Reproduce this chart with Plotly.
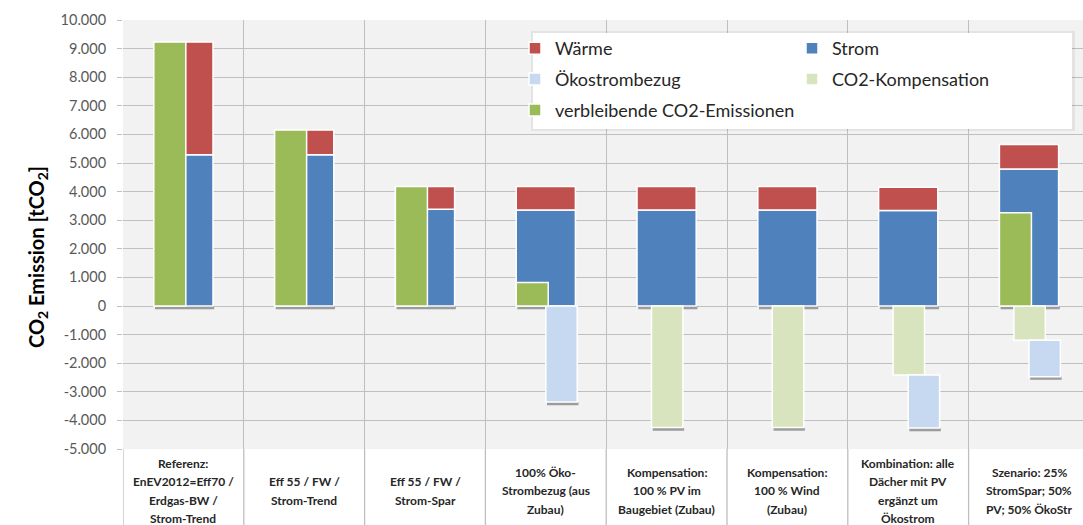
import plotly.graph_objects as go

# ---------------- data ----------------
categories = [
    "Referenz:<br>EnEV2012=Eff70 /<br>Erdgas-BW /<br>Strom-Trend",
    "Eff 55 / FW /<br>Strom-Trend",
    "Eff 55 / FW /<br>Strom-Spar",
    "100% Öko-<br>Strombezug (aus<br>Zubau)",
    "Kompensation:<br>100 % PV im<br>Baugebiet (Zubau)",
    "Kompensation:<br>100 % Wind<br>(Zubau)",
    "Kombination: alle<br>Dächer mit PV<br>ergänzt um<br>Ökostrom",
    "Szenario: 25%<br>StromSpar; 50%<br>PV; 50% ÖkoStr",
]
strom = [5290, 5290, 3380, 3360, 3360, 3360, 3340, 4790]
waerme = [3945, 860, 800, 820, 820, 820, 810, 860]
verbleibend = [9235, 6150, 4180, 820, 0, 0, 0, 3260]
kompensation = [0, 0, 0, 0, -4250, -4250, -2410, -1200]
oekostrom = [0, 0, 0, -3360, 0, 0, -1860, -1270]

y_tick_values = [-5000, -4000, -3000, -2000, -1000, 0, 1000, 2000, 3000,
                 4000, 5000, 6000, 7000, 8000, 9000, 10000]
y_tick_labels = ["-5.000", "-4.000", "-3.000", "-2.000", "-1.000", "0",
                 "1.000", "2.000", "3.000", "4.000", "5.000", "6.000",
                 "7.000", "8.000", "9.000", "10.000"]

# ---------------- styles ----------------
C_RED = "#C0504D"
C_BLUE = "#4F81BD"
C_GREEN = "#9BBB59"
C_LBLUE = "#C6D9F1"
C_LGREEN = "#D7E4BD"
GRID = "#BFBFBF"
FONT = "Lato"
SHADOW = "rgba(70,70,70,0.5)"
SH = 110  # shadow thickness in axis units (visual only)

n = len(categories)
xs = list(range(n))


def nz(vals):
    return [v if v != 0 else None for v in vals]


line = dict(color="white", width=1.5)
fig = go.Figure()

# soft Excel-like shadows under bar bottoms (decoration)
full_bottom = [0 if s > 0 else None for s in strom]
komp_bottom = [k if (k != 0 and o == 0) else None for k, o in zip(kompensation, oekostrom)]
oeko_bottom = [k + o if o != 0 else None for k, o in zip(kompensation, oekostrom)]
for bases, off, wid in [(full_bottom, -0.235, 0.49), (komp_bottom, -0.115, 0.26),
                        (oeko_bottom, 0.01, 0.26)]:
    fig.add_trace(go.Bar(x=xs, y=[-SH if b is not None else None for b in bases],
                         base=[b if b is not None else 0 for b in bases],
                         marker=dict(color=SHADOW, line=dict(width=0)),
                         offset=off, width=wid, showlegend=False, hoverinfo="skip"))

fig.add_trace(go.Bar(x=xs, y=nz(strom), name="Strom", marker=dict(color=C_BLUE, line=line),
                     offset=-0.245, width=0.49, legend="legend2", legendgroup="g2",
                     legendrank=1))
fig.add_trace(go.Bar(x=xs, y=nz(waerme), base=strom, name="Wärme",
                     marker=dict(color=C_RED, line=line),
                     offset=-0.245, width=0.49, legend="legend", legendgroup="g1",
                     legendrank=1))
fig.add_trace(go.Bar(x=xs, y=nz(kompensation), name="CO2-Kompensation",
                     marker=dict(color=C_LGREEN, line=line),
                     offset=-0.125, width=0.26, legend="legend2", legendgroup="g4",
                     legendrank=2))
fig.add_trace(go.Bar(x=xs, y=nz(oekostrom), base=kompensation, name="Ökostrombezug",
                     marker=dict(color=C_LBLUE, line=line),
                     offset=0.0, width=0.26, legend="legend", legendgroup="g3",
                     legendrank=2))
fig.add_trace(go.Bar(x=xs, y=nz(verbleibend), name="verbleibende CO2-Emissionen",
                     marker=dict(color=C_GREEN, line=line),
                     offset=-0.245, width=0.265, legend="legend", legendgroup="g5",
                     legendrank=3))

boundaries = [i - 0.5 for i in range(n + 1)]

# category labels (each line placed separately for Excel-like line spacing)
annotations = []
for i, lab in enumerate(categories):
    lines = lab.split("<br>")
    k = len(lines)
    for j, t in enumerate(lines):
        annotations.append(dict(
            x=i, xref="x", y=-0.0979, yref="paper", text=t, showarrow=False,
            xanchor="center", yanchor="middle",
            yshift=-(j - (k - 1) / 2) * 18.3,
            font=dict(family=FONT, size=12, color="#262626", weight="bold"),
        ))

annotations.append(dict(
    x=-0.0885, xref="paper", y=0.4476, yref="paper",
    text="CO<sub>2</sub> Emission [tCO<sub>2</sub>]",
    textangle=-90, showarrow=False, xanchor="center", yanchor="middle",
    font=dict(family=FONT, size=20, color="#000000", weight="bold"),
))

shapes = []
for b in boundaries:
    shapes.append(dict(type="line", xref="x", yref="paper", x0=b, x1=b, y0=0, y1=-0.2,
                       line=dict(color=GRID, width=1.3)))
# legend box with faint shadow
shapes.append(dict(type="rect", xref="paper", yref="paper",
                   x0=(531 - 123) / 960, x1=(1075 - 123) / 960,
                   y0=(449 - 131) / 429, y1=(449 - 31) / 429,
                   fillcolor="rgba(0,0,0,0.06)", line=dict(width=0), layer="above"))
shapes.append(dict(type="rect", xref="paper", yref="paper",
                   x0=(533 - 123) / 960, x1=(1072 - 123) / 960,
                   y0=(449 - 129) / 429, y1=(449 - 33) / 429,
                   fillcolor="white", line=dict(width=0), layer="above"))

fig.update_layout(
    width=1083, height=525, autosize=False,
    margin=dict(l=123, r=0, t=20, b=76),
    paper_bgcolor="white", plot_bgcolor="#F2F2F2",
    barmode="overlay",
    font=dict(family=FONT, color="#262626"),
    xaxis=dict(range=[-0.5, n - 0.5 - 0.053], tickmode="array", tickvals=boundaries,
               showticklabels=False, ticks="", showgrid=True, gridcolor=GRID,
               gridwidth=1.3, zeroline=False, showline=False, fixedrange=True),
    yaxis=dict(range=[-5000, 10000], tickmode="array", tickvals=y_tick_values,
               ticktext=y_tick_labels, ticks="outside", ticklen=5, tickcolor=GRID,
               tickwidth=1.3, ticklabelstandoff=8,
               tickfont=dict(family=FONT, size=14.5, color="#595959"),
               showgrid=True, gridcolor=GRID, gridwidth=1.3, zeroline=False,
               showline=False),
    showlegend=True,
    legend=dict(x=(515 - 123) / 960, y=(449 - 30) / 429, xanchor="left", yanchor="top",
                bgcolor="rgba(0,0,0,0)", borderwidth=0, orientation="v",
                tracegroupgap=4.5, font=dict(family=FONT, size=18, color="#262626")),
    legend2=dict(x=(792 - 123) / 960, y=(449 - 30) / 429, xanchor="left", yanchor="top",
                 bgcolor="rgba(0,0,0,0)", borderwidth=0, orientation="v",
                 tracegroupgap=4.5, font=dict(family=FONT, size=18, color="#262626")),
    annotations=annotations,
    shapes=shapes,
)

fig.write_html("out.html", post_script="document.body.style.margin='0';",
               config={"displayModeBar": False})
